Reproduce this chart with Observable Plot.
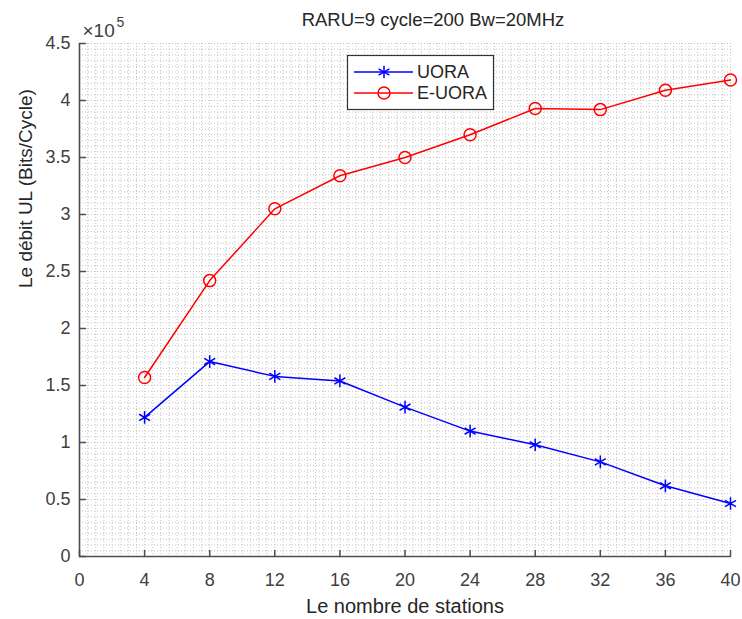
<!DOCTYPE html>
<html>
<head>
<meta charset="utf-8">
<script src="https://cdn.jsdelivr.net/npm/d3@7"></script>
<script src="https://cdn.jsdelivr.net/npm/@observablehq/plot@0.6"></script>
<style>
  body { margin: 0; background: #fff; }
  #wrap { position: relative; width: 742px; height: 619px; font-family: "Liberation Sans", Arial, sans-serif; }
  #legend { position: absolute; left: 0; top: 0; pointer-events: none; }
</style>
</head>
<body>
<div id="wrap"></div>
<script>
// ---- data ----
const stations = [4, 8, 12, 16, 20, 24, 28, 32, 36, 40];
const uora  = [122000, 171000, 158000, 154000, 131000, 110000, 98000, 83000, 62000, 46500];
const euora = [157000, 242000, 305000, 334000, 350000, 370000, 393000, 392000, 409000, 418000];
const xTicks = [0, 4, 8, 12, 16, 20, 24, 28, 32, 36, 40];
const yTicks = [0, 50000, 100000, 150000, 200000, 250000, 300000, 350000, 400000, 450000];
const seriesNames = ["UORA", "E-UORA"];
const title = "RARU=9 cycle=200 Bw=20MHz";
const xLabel = "Le nombre de stations";
const yLabel = "Le débit UL (Bits/Cycle)";

const rowsU = stations.map((s, i) => ({x: s, y: uora[i]}));
const rowsE = stations.map((s, i) => ({x: s, y: euora[i]}));
const xMinor = d3.range(0, 40.001, 0.5);
const yMinor = d3.range(0, 450001, 5000);

const font = "Liberation Sans, Arial, sans-serif";
const textCol = "#404040";
const axisCol = "#4d4d4d";

const tickShape = {draw(ctx, l) { ctx.moveTo(0, 0); ctx.lineTo(0, -l); }};

const chart = Plot.plot({
  width: 742,
  height: 619,
  marginLeft: 79,
  marginRight: 12,
  marginTop: 43,
  marginBottom: 63,
  style: {fontFamily: font, fontSize: "18px", color: textCol, background: "#fff"},
  x: {domain: [0, 40]},
  y: {domain: [0, 450000]},
  marks: [
    // minor grid
    Plot.ruleX(xMinor, {stroke: "#c4c4c4", strokeDasharray: "1,2", strokeWidth: 1}),
    Plot.ruleY(yMinor, {stroke: "#c4c4c4", strokeDasharray: "1,2", strokeWidth: 1}),
    // axes
    Plot.axisX({ticks: xTicks, tickSize: 0, tickPadding: 17, label: null, fontSize: 18, fill: textCol}),
    Plot.axisY({ticks: yTicks, tickSize: 0, tickPadding: 9, label: null, fontSize: 18, fill: textCol,
      tickFormat: d => d3.format("~g")(d / 1e5)}),
    Plot.ruleY([0], {stroke: axisCol, strokeWidth: 1.6}),
    Plot.ruleX([0], {stroke: axisCol, strokeWidth: 1.6}),
    Plot.vector(xTicks, {x: d => d, y: 0, length: 6, rotate: 0, anchor: "start", shape: tickShape, stroke: axisCol, strokeWidth: 1.5}),
    Plot.vector(yTicks, {x: 0, y: d => d, length: 6, rotate: 90, anchor: "start", shape: tickShape, stroke: axisCol, strokeWidth: 1.5}),
    // series
    Plot.line(rowsE, {x: "x", y: "y", stroke: "#ff0000", strokeWidth: 1.5}),
    Plot.dot(rowsE, {x: "x", y: "y", r: 6, stroke: "#ff0000", fill: "none", strokeWidth: 1.5}),
    Plot.line(rowsU, {x: "x", y: "y", stroke: "#0000ff", strokeWidth: 1.5}),
    Plot.dot(rowsU, {x: "x", y: "y", symbol: "asterisk", r: 6, stroke: "#0000ff", strokeWidth: 1.5}),
    // texts
    Plot.text([title], {frameAnchor: "top", lineAnchor: "middle", dx: 28, dy: -23, fontSize: 18.5, fill: "#262626"}),
    Plot.text([xLabel], {frameAnchor: "bottom", lineAnchor: "middle", dy: 50, fontSize: 20, fill: "#262626"}),
    Plot.text([yLabel], {frameAnchor: "left", lineAnchor: "middle", dx: -54, dy: -12, rotate: -90, fontSize: 19, fill: "#262626"}),
    Plot.text(["×10"], {frameAnchor: "top-left", lineAnchor: "middle", dx: 3, dy: -13, textAnchor: "start", fontSize: 19, fill: textCol}),
    Plot.text(["5"], {frameAnchor: "top-left", lineAnchor: "middle", dx: 37, dy: -21, textAnchor: "start", fontSize: 14, fill: textCol})
  ]
});
document.getElementById("wrap").appendChild(chart);

// legend overlay
const svg = d3.select("#wrap").append("svg")
  .attr("id", "legend").attr("width", 742).attr("height", 619);
svg.append("rect").attr("x", 347.5).attr("y", 55.5).attr("width", 146).attr("height", 54)
  .attr("fill", "#fff").attr("stroke", "#333").attr("stroke-width", 1.2);
const cols = ["#0000ff", "#ff0000"];
seriesNames.forEach((name, i) => {
  const cy = 72 + i * 21;
  svg.append("line").attr("x1", 354).attr("x2", 413).attr("y1", cy).attr("y2", cy)
    .attr("stroke", cols[i]).attr("stroke-width", 1.5);
  if (i === 0) {
    svg.append("path").attr("d", d3.symbol(d3.symbolAsterisk, 110)())
      .attr("transform", `translate(384,${cy})`).attr("stroke", cols[i]).attr("stroke-width", 1.5).attr("fill", "none");
  } else {
    svg.append("circle").attr("cx", 384).attr("cy", cy).attr("r", 6)
      .attr("stroke", cols[i]).attr("stroke-width", 1.5).attr("fill", "none");
  }
  svg.append("text").attr("x", 417).attr("y", cy).attr("dy", "0.35em")
    .attr("font-family", font).attr("font-size", 18).attr("fill", "#262626").text(name);
});
</script>
</body>
</html>
